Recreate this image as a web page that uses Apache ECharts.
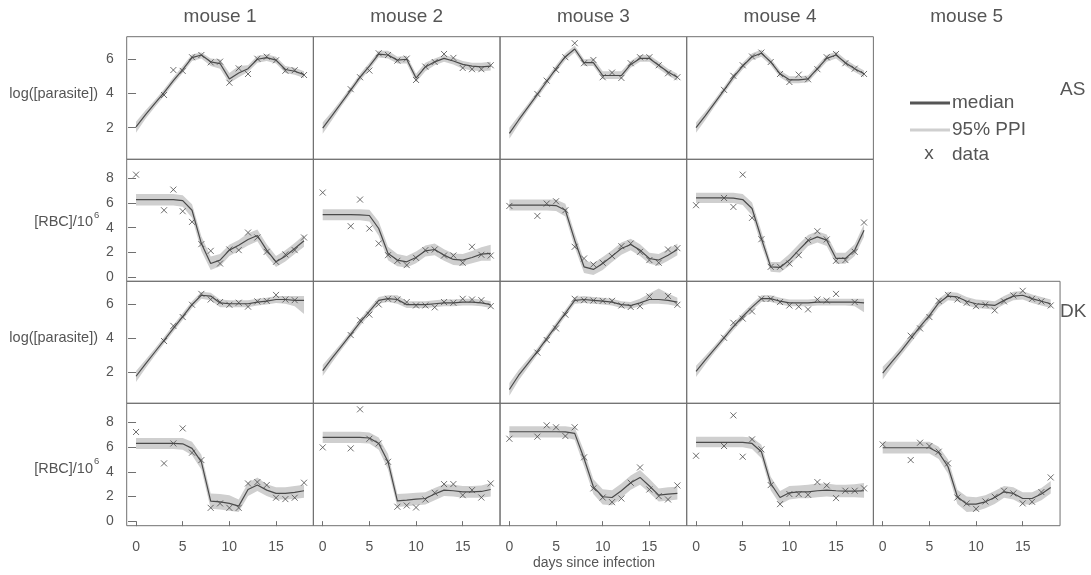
<!DOCTYPE html>
<html><head><meta charset="utf-8">
<script src="https://cdn.jsdelivr.net/npm/echarts@6/dist/echarts.min.js"></script>
<style>html,body{margin:0;padding:0;background:#fff}#c{width:1091px;height:575px}</style>
</head><body><div id="c"></div><script>
const days = [0,1,2,3,4,5,6,7,8,9,10,11,12,13,14,15,16,17,18];
const mouseLabels = ['mouse 1','mouse 2','mouse 3','mouse 4','mouse 5'];
const groupLabels = ['AS','DK'];
const xTicks = [0,5,10,15];
const parTicks = [2,4,6];
const rbcTicks = [0,2,4,6,8];
const xLabel = 'days since infection';

// ---- AS, log([parasite]) ----
const asParMed1 = [2.05,2.75,3.4,4.05,4.75,5.4,6.1,6.25,5.85,5.75,4.85,5.2,5.45,6.0,6.1,5.95,5.4,5.3,5.1];
const asParLo1  = [1.7,2.5,3.2,3.85,4.55,5.2,5.9,6.05,5.6,5.45,4.6,4.95,5.25,5.8,5.9,5.75,5.2,5.1,4.9];
const asParHi1  = [2.35,3.0,3.6,4.25,4.95,5.6,6.3,6.4,6.05,6.0,5.2,5.6,5.65,6.2,6.3,6.15,5.6,5.5,5.3];
const asParObs1 = [null,null,null,3.91,5.37,5.32,6.12,6.25,5.82,5.86,4.63,5.47,5.14,6.03,6.15,5.94,5.33,5.36,5.08];

const asParMed2 = [1.97,2.7,3.45,4.2,4.95,5.6,6.3,6.25,5.95,6.0,4.9,5.55,5.85,6.05,5.9,5.7,5.6,5.55,5.6];
const asParLo2  = [1.65,2.45,3.25,4.0,4.75,5.4,6.1,6.05,5.75,5.75,4.65,5.3,5.65,5.85,5.7,5.45,5.35,5.3,5.35];
const asParHi2  = [2.3,2.95,3.65,4.4,5.15,5.8,6.5,6.5,6.15,6.2,5.15,5.8,6.05,6.25,6.1,5.9,5.8,5.8,5.85];
const asParObs2 = [null,null,null,4.25,4.95,5.34,6.35,6.25,5.92,6.04,4.79,5.57,5.84,6.31,6.08,5.49,5.42,5.42,5.65];

const asParMed3 = [1.67,2.45,3.2,3.95,4.7,5.45,6.15,6.6,5.8,5.8,5.05,5.05,5.05,5.7,6.05,6.05,5.65,5.25,4.95];
const asParLo3  = [1.35,2.2,3.0,3.75,4.5,5.25,5.95,6.4,5.6,5.6,4.85,4.85,4.85,5.5,5.85,5.85,5.45,5.05,4.75];
const asParHi3  = [2.0,2.7,3.4,4.15,4.9,5.65,6.35,6.8,6.0,6.05,5.3,5.3,5.3,5.9,6.25,6.25,5.85,5.45,5.15];
const asParObs3 = [null,null,null,3.97,4.75,5.38,6.12,6.94,5.77,5.96,4.95,5.22,4.91,5.77,6.12,6.12,5.65,5.18,4.95];

const asParMed4 = [2.0,2.7,3.45,4.2,4.95,5.6,6.15,6.35,5.85,5.15,4.8,4.8,4.85,5.45,6.05,6.25,5.8,5.45,5.15];
const asParLo4  = [1.7,2.45,3.25,4.0,4.75,5.4,5.95,6.15,5.65,4.95,4.6,4.6,4.65,5.25,5.85,6.05,5.6,5.25,4.95];
const asParHi4  = [2.3,2.95,3.65,4.4,5.15,5.8,6.35,6.55,6.05,5.35,5.0,5.0,5.05,5.65,6.25,6.45,6.0,5.65,5.35];
const asParObs4 = [null,null,null,4.21,5.03,5.65,6.16,6.39,5.84,5.14,4.67,5.10,4.83,5.42,6.12,6.31,5.77,5.45,5.14];

// ---- AS, [RBC]/10^6 ----
const asRbcMed1 = [6.29,6.29,6.29,6.29,6.28,6.2,5.42,2.7,1.08,1.35,2.17,2.57,3.04,3.36,2.17,1.22,1.68,2.3,2.93];
const asRbcLo1  = [5.8,5.8,5.8,5.8,5.8,5.7,4.8,2.1,0.55,0.85,1.7,2.1,2.55,2.9,1.7,0.8,1.25,1.85,2.45];
const asRbcHi1  = [6.75,6.75,6.75,6.75,6.75,6.65,5.9,3.3,1.65,1.85,2.6,3.0,3.55,3.85,2.65,1.7,2.15,2.75,3.4];
const asRbcObs1 = [8.32,null,null,5.42,7.10,5.34,4.47,2.66,2.11,1.08,2.22,2.17,3.60,3.20,2.03,1.22,1.82,2.17,3.20];

const asRbcMed2 = [5.07,5.07,5.07,5.07,5.05,4.99,3.93,1.9,1.36,1.22,1.57,2.11,2.22,1.76,1.41,1.36,1.57,1.84,1.9];
const asRbcLo2  = [4.6,4.6,4.6,4.6,4.6,4.5,3.35,1.35,0.85,0.75,1.1,1.65,1.75,1.3,0.95,0.9,1.1,1.3,1.3];
const asRbcHi2  = [5.5,5.5,5.5,5.5,5.5,5.45,4.5,2.45,1.85,1.7,2.05,2.55,2.7,2.25,1.9,1.85,2.1,2.4,2.6];
const asRbcObs2 = [6.86,null,null,4.12,6.29,3.93,2.71,1.76,1.30,0.95,1.54,2.17,2.22,1.73,1.73,1.14,2.44,1.79,1.73];

const asRbcMed3 = [5.83,5.83,5.83,5.83,5.83,5.8,5.42,2.98,0.81,0.6,1.08,1.68,2.3,2.63,2.17,1.49,1.36,1.76,2.22];
const asRbcLo3  = [5.4,5.4,5.4,5.4,5.4,5.35,4.9,2.4,0.3,0.15,0.55,1.2,1.8,2.15,1.7,1.05,0.9,1.3,1.75];
const asRbcHi3  = [6.3,6.3,6.3,6.3,6.3,6.3,5.95,3.55,1.35,1.1,1.6,2.15,2.8,3.1,2.65,1.95,1.85,2.25,2.7];
const asRbcObs3 = [5.77,null,null,4.96,5.96,6.15,5.42,2.44,1.49,1.00,1.14,1.68,2.49,2.71,2.03,1.36,1.14,2.22,2.33];

const asRbcMed4 = [6.42,6.42,6.42,6.42,6.4,6.29,5.56,3.12,0.81,0.76,1.36,2.17,2.93,3.25,2.98,1.49,1.49,2.17,3.79];
const asRbcLo4  = [6.0,6.0,6.0,6.0,6.0,5.85,5.0,2.55,0.4,0.35,0.9,1.7,2.5,2.8,2.5,1.05,1.05,1.7,3.25];
const asRbcHi4  = [6.85,6.85,6.85,6.85,6.85,6.75,6.05,3.7,1.2,1.2,1.85,2.65,3.4,3.7,3.45,1.95,1.95,2.65,4.3];
const asRbcObs4 = [5.83,null,null,6.42,5.69,8.32,4.80,3.06,0.81,0.81,1.08,1.76,2.98,3.71,3.04,1.30,1.36,2.03,4.42];

// ---- DK, log([parasite]) ----
const dkParMed1 = [1.74,2.45,3.15,3.85,4.55,5.25,5.95,6.5,6.45,6.05,6.0,6.0,6.0,6.1,6.15,6.25,6.25,6.2,6.2];
const dkParLo1  = [1.4,2.2,2.95,3.65,4.35,5.05,5.75,6.3,6.2,5.8,5.8,5.8,5.8,5.9,5.95,6.05,6.0,5.85,5.4];
const dkParHi1  = [2.05,2.7,3.35,4.05,4.75,5.45,6.15,6.7,6.65,6.25,6.2,6.2,6.2,6.3,6.35,6.45,6.45,6.45,6.45];
const dkParObs1 = [null,null,null,3.81,4.70,5.22,5.94,6.58,6.25,6.10,5.94,6.06,5.83,6.14,6.17,6.52,6.25,6.21,null];

const dkParMed2 = [2.07,2.8,3.5,4.2,4.9,5.55,6.2,6.3,6.25,5.95,5.95,5.95,6.0,6.05,6.05,6.1,6.1,6.05,5.95];
const dkParLo2  = [1.75,2.55,3.3,4.0,4.7,5.35,6.0,6.1,6.0,5.75,5.75,5.75,5.8,5.85,5.85,5.9,5.9,5.85,5.75];
const dkParHi2  = [2.4,3.05,3.7,4.4,5.1,5.75,6.4,6.5,6.5,6.15,6.15,6.15,6.2,6.25,6.25,6.3,6.3,6.25,6.15];
const dkParObs2 = [null,null,null,4.16,5.03,5.36,5.96,6.29,6.25,6.10,5.90,5.90,5.79,6.10,6.06,6.29,6.25,6.21,5.86];

const dkParMed3 = [0.96,1.8,2.5,3.2,3.95,4.7,5.45,6.2,6.25,6.2,6.15,6.1,5.95,5.9,6.05,6.25,6.25,6.2,6.1];
const dkParLo3  = [0.6,1.5,2.25,3.0,3.75,4.5,5.25,6.0,6.05,6.0,5.95,5.9,5.75,5.7,5.85,6.0,6.0,5.95,5.85];
const dkParHi3  = [1.35,2.1,2.75,3.4,4.15,4.9,5.65,6.4,6.45,6.4,6.35,6.3,6.15,6.1,6.3,6.6,6.9,6.6,6.35];
const dkParObs3 = [null,null,null,3.13,3.87,4.55,5.36,6.29,6.21,6.19,6.17,6.17,5.90,5.81,5.86,6.43,null,6.45,5.94];

const dkParMed4 = [2.03,2.7,3.35,4.0,4.65,5.25,5.8,6.3,6.3,6.15,6.05,6.05,6.05,6.1,6.1,6.1,6.1,6.1,6.05];
const dkParLo4  = [1.7,2.45,3.15,3.8,4.45,5.05,5.6,6.1,6.1,5.95,5.85,5.85,5.85,5.9,5.9,5.9,5.9,5.85,5.5];
const dkParHi4  = [2.35,2.95,3.55,4.2,4.85,5.45,6.0,6.5,6.5,6.35,6.25,6.25,6.25,6.3,6.3,6.3,6.3,6.3,6.3];
const dkParObs4 = [null,null,null,4.00,4.88,5.13,5.55,6.29,6.29,6.10,5.90,5.83,5.67,6.25,6.19,6.58,null,6.10,null];

const dkParMed5 = [1.93,2.6,3.25,3.95,4.65,5.3,6.05,6.45,6.4,6.15,6.0,5.95,5.9,6.2,6.45,6.5,6.3,6.15,6.0];
const dkParLo5  = [1.55,2.3,3.0,3.7,4.4,5.05,5.8,6.2,6.15,5.9,5.75,5.7,5.65,5.95,6.2,6.25,6.05,5.9,5.75];
const dkParHi5  = [2.3,2.85,3.5,4.2,4.9,5.55,6.3,6.7,6.65,6.4,6.25,6.2,6.15,6.45,6.7,6.75,6.55,6.4,6.25];
const dkParObs5 = [null,null,null,4.12,4.55,5.22,6.17,6.52,6.25,6.06,5.86,5.94,5.61,6.14,6.49,6.76,6.29,6.14,5.90];

// ---- DK, [RBC]/10^6 ----
const dkRbcMed1 = [6.31,6.31,6.31,6.31,6.31,6.28,5.91,4.82,1.63,1.57,1.44,1.22,2.57,2.93,2.52,2.25,2.25,2.33,2.47];
const dkRbcLo1  = [5.85,5.85,5.85,5.85,5.85,5.8,5.35,4.2,1.0,0.95,0.85,0.75,2.05,2.45,2.05,1.75,1.75,1.8,1.9];
const dkRbcHi1  = [6.75,6.75,6.75,6.75,6.75,6.75,6.45,5.4,2.25,2.2,2.1,1.75,3.1,3.55,3.0,2.75,2.75,2.85,2.95];
const dkRbcObs1 = [7.24,null,null,4.69,6.31,7.53,5.56,4.96,1.08,1.44,1.08,1.08,3.06,3.17,2.93,1.90,1.79,1.90,3.12];

const dkRbcMed2 = [6.8,6.8,6.8,6.8,6.8,6.75,6.31,4.82,1.65,1.71,1.79,1.84,2.2,2.52,2.47,2.38,2.38,2.41,2.57];
const dkRbcLo2  = [6.35,6.35,6.35,6.35,6.35,6.3,5.8,4.2,1.15,1.2,1.3,1.35,1.7,2.05,2.0,1.9,1.9,1.9,2.0];
const dkRbcHi2  = [7.25,7.25,7.25,7.25,7.25,7.2,6.8,5.45,2.2,2.25,2.3,2.35,2.7,3.0,2.95,2.85,2.85,2.9,3.1];
const dkRbcObs2 = [5.99,null,null,5.91,9.08,6.69,6.31,4.82,1.17,1.27,1.11,1.76,2.30,3.01,3.01,2.11,2.52,1.92,3.06];

const dkRbcMed3 = [7.26,7.26,7.26,7.26,7.26,7.26,7.25,7.13,5.09,2.79,1.98,1.92,2.47,3.12,3.55,2.85,2.11,2.2,2.25];
const dkRbcLo3  = [6.8,6.8,6.8,6.8,6.8,6.8,6.8,6.6,4.45,2.2,1.35,1.3,1.9,2.55,2.95,2.3,1.6,1.65,1.75];
const dkRbcHi3  = [7.7,7.7,7.7,7.7,7.7,7.7,7.7,7.6,5.7,3.4,2.6,2.5,3.05,3.7,4.15,3.45,2.65,2.75,2.8];
const dkRbcObs3 = [6.69,null,null,6.86,7.78,7.62,6.91,7.62,5.18,2.66,1.92,1.54,1.84,3.12,4.36,2.57,2.03,1.76,2.90];

const dkRbcMed4 = [6.4,6.4,6.4,6.4,6.4,6.4,6.31,5.64,3.06,1.92,2.3,2.38,2.38,2.47,2.52,2.47,2.44,2.44,2.47];
const dkRbcLo4  = [6.0,6.0,6.0,6.0,6.0,6.0,5.85,5.1,2.5,1.35,1.75,1.85,1.85,1.95,2.0,1.95,1.95,1.95,1.9];
const dkRbcHi4  = [6.85,6.85,6.85,6.85,6.85,6.85,6.8,6.2,3.6,2.45,2.85,2.9,2.95,3.05,3.05,2.95,2.95,3.0,3.1];
const dkRbcObs4 = [5.31,null,null,6.10,8.59,5.23,6.64,5.83,2.93,1.38,2.20,2.20,2.14,3.17,2.90,1.87,2.47,2.47,2.66];

const dkRbcMed5 = [5.96,5.96,5.96,5.96,5.96,5.96,5.56,4.42,1.98,1.38,1.38,1.57,1.92,2.38,2.25,1.84,1.84,2.2,2.74];
const dkRbcLo5  = [5.5,5.5,5.5,5.5,5.5,5.5,5.05,3.85,1.4,0.75,0.8,1.05,1.4,1.9,1.75,1.35,1.35,1.7,2.25];
const dkRbcHi5  = [6.45,6.45,6.45,6.45,6.45,6.45,6.05,5.0,2.55,2.0,1.95,2.1,2.45,2.85,2.75,2.35,2.35,2.7,3.25];
const dkRbcObs5 = [6.23,null,null,4.96,6.37,6.10,5.64,4.69,1.92,1.44,1.00,1.60,1.98,2.47,2.25,1.44,1.57,2.36,3.55];

// ---- panel table built from the arrays ----
const panels = [
  {row:0,col:0,kind:'par',med:asParMed1,lo:asParLo1,hi:asParHi1,obs:asParObs1},
  {row:0,col:1,kind:'par',med:asParMed2,lo:asParLo2,hi:asParHi2,obs:asParObs2},
  {row:0,col:2,kind:'par',med:asParMed3,lo:asParLo3,hi:asParHi3,obs:asParObs3},
  {row:0,col:3,kind:'par',med:asParMed4,lo:asParLo4,hi:asParHi4,obs:asParObs4},
  {row:1,col:0,kind:'rbc',med:asRbcMed1,lo:asRbcLo1,hi:asRbcHi1,obs:asRbcObs1},
  {row:1,col:1,kind:'rbc',med:asRbcMed2,lo:asRbcLo2,hi:asRbcHi2,obs:asRbcObs2},
  {row:1,col:2,kind:'rbc',med:asRbcMed3,lo:asRbcLo3,hi:asRbcHi3,obs:asRbcObs3},
  {row:1,col:3,kind:'rbc',med:asRbcMed4,lo:asRbcLo4,hi:asRbcHi4,obs:asRbcObs4},
  {row:2,col:0,kind:'par',med:dkParMed1,lo:dkParLo1,hi:dkParHi1,obs:dkParObs1},
  {row:2,col:1,kind:'par',med:dkParMed2,lo:dkParLo2,hi:dkParHi2,obs:dkParObs2},
  {row:2,col:2,kind:'par',med:dkParMed3,lo:dkParLo3,hi:dkParHi3,obs:dkParObs3},
  {row:2,col:3,kind:'par',med:dkParMed4,lo:dkParLo4,hi:dkParHi4,obs:dkParObs4},
  {row:2,col:4,kind:'par',med:dkParMed5,lo:dkParLo5,hi:dkParHi5,obs:dkParObs5},
  {row:3,col:0,kind:'rbc',med:dkRbcMed1,lo:dkRbcLo1,hi:dkRbcHi1,obs:dkRbcObs1},
  {row:3,col:1,kind:'rbc',med:dkRbcMed2,lo:dkRbcLo2,hi:dkRbcHi2,obs:dkRbcObs2},
  {row:3,col:2,kind:'rbc',med:dkRbcMed3,lo:dkRbcLo3,hi:dkRbcHi3,obs:dkRbcObs3},
  {row:3,col:3,kind:'rbc',med:dkRbcMed4,lo:dkRbcLo4,hi:dkRbcHi4,obs:dkRbcObs4},
  {row:3,col:4,kind:'rbc',med:dkRbcMed5,lo:dkRbcLo5,hi:dkRbcHi5,obs:dkRbcObs5}
];

const FONT = '"Liberation Sans", Arial, Helvetica, sans-serif';
const TXT = '#555555';
const BORDER = '#707070';
const colX0 = 126.7, colW = 186.67;
const rowY = [36.7, 159.3, 281.3, 403.3, 525.7];
const yRange = {par:[0.15, 7.32], rbc:[-0.37, 9.57]};
const yTicks = {par: parTicks, rbc: rbcTicks};

const grids = [], xAxes = [], yAxes = [], series = [];
panels.forEach((p, i) => {
  const left = colX0 + p.col * colW;
  const top = rowY[p.row];
  grids.push({left: left, top: top, width: colW, height: rowY[p.row+1] - top,
    show: true, borderColor: BORDER, borderWidth: 1, backgroundColor: 'transparent'});
  const bottom = p.row === 3;
  xAxes.push({type: 'value', gridIndex: i, min: -1, max: 19,
    axisLine: {show: false}, splitLine: {show: false},
    axisTick: {show: bottom, customValues: xTicks, length: 5, lineStyle: {color: BORDER}},
    axisLabel: {show: bottom, customValues: xTicks, fontSize: 14, color: TXT, margin: 14, fontFamily: FONT}});
  const first = p.col === 0;
  yAxes.push({type: 'value', gridIndex: i, min: yRange[p.kind][0], max: yRange[p.kind][1],
    axisLine: {show: false}, splitLine: {show: false},
    axisTick: {show: first, customValues: yTicks[p.kind], length: 8, lineStyle: {color: BORDER}},
    axisLabel: {show: first, customValues: yTicks[p.kind], fontSize: 14, color: TXT, margin: 13, fontFamily: FONT}});
  series.push({
    type: 'custom', xAxisIndex: i, yAxisIndex: i, silent: true, z: 1,
    data: [[days[0], p.lo[0]]],
    renderItem: (params, api) => {
      const pts = [];
      for (let k = 0; k < days.length; k++) pts.push(api.coord([days[k], p.hi[k]]));
      for (let k = days.length - 1; k >= 0; k--) pts.push(api.coord([days[k], p.lo[k]]));
      return {type: 'polygon', shape: {points: pts}, style: {fill: '#cfcfcf', stroke: null}};
    }
  });
  series.push({
    type: 'line', xAxisIndex: i, yAxisIndex: i, silent: true, z: 2,
    data: days.map((d, k) => [d, p.med[k]]),
    symbol: 'none', showSymbol: false,
    lineStyle: {color: '#4a4a4a', width: 1.2}
  });
  series.push({
    type: 'scatter', xAxisIndex: i, yAxisIndex: i, silent: true, z: 3,
    data: days.map((d, k) => p.obs[k] == null ? null : [d, p.obs[k]]).filter(v => v),
    symbol: 'path://M0,0L10,10M10,0L0,10', symbolSize: 6,
    itemStyle: {color: 'none', borderColor: '#4a4a4a', borderWidth: 1}
  });
});

const graphics = [];
mouseLabels.forEach((m, c) => {
  graphics.push({type: 'text', x: colX0 + c * colW + colW / 2, y: 17,
    style: {text: m, fontSize: 19, fill: TXT, fontFamily: FONT, align: 'center', verticalAlign: 'middle'}});
});
graphics.push({type: 'text', x: 1060, y: 90, style: {text: groupLabels[0], fontSize: 19, fill: TXT, fontFamily: FONT, align: 'left', verticalAlign: 'middle'}});
graphics.push({type: 'text', x: 1060, y: 312, style: {text: groupLabels[1], fontSize: 19, fill: TXT, fontFamily: FONT, align: 'left', verticalAlign: 'middle'}});
// y-axis titles
[[94, 'par'], [222, 'rbc'], [338, 'par'], [468.5, 'rbc']].forEach(([y, kind]) => {
  if (kind === 'par') {
    graphics.push({type: 'text', x: 98, y: y, style: {text: 'log([parasite])', fontSize: 14.5, fill: TXT, fontFamily: FONT, align: 'right', verticalAlign: 'middle'}});
  } else {
    graphics.push({type: 'text', x: 93, y: y, style: {text: '[RBC]/10', fontSize: 14.5, fill: TXT, fontFamily: FONT, align: 'right', verticalAlign: 'middle'}});
    graphics.push({type: 'text', x: 94, y: y - 7, style: {text: '6', fontSize: 9.5, fill: TXT, fontFamily: FONT, align: 'left', verticalAlign: 'middle'}});
  }
});
graphics.push({type: 'text', x: 594, y: 563, style: {text: xLabel, fontSize: 14, fill: TXT, fontFamily: FONT, align: 'center', verticalAlign: 'middle'}});
// legend
graphics.push({type: 'line', shape: {x1: 910, y1: 103, x2: 950, y2: 103}, style: {stroke: '#555555', lineWidth: 3}});
graphics.push({type: 'text', x: 952, y: 103, style: {text: 'median', fontSize: 19, fill: TXT, fontFamily: FONT, align: 'left', verticalAlign: 'middle'}});
graphics.push({type: 'line', shape: {x1: 910, y1: 130, x2: 950, y2: 130}, style: {stroke: '#cfcfcf', lineWidth: 3}});
graphics.push({type: 'text', x: 952, y: 130, style: {text: '95% PPI', fontSize: 19, fill: TXT, fontFamily: FONT, align: 'left', verticalAlign: 'middle'}});
graphics.push({type: 'text', x: 929, y: 154, style: {text: 'x', fontSize: 19, fill: TXT, fontFamily: FONT, align: 'center', verticalAlign: 'middle'}});
graphics.push({type: 'text', x: 952, y: 155, style: {text: 'data', fontSize: 19, fill: TXT, fontFamily: FONT, align: 'left', verticalAlign: 'middle'}});

const chart = echarts.init(document.getElementById('c'), null, {renderer: 'canvas'});
chart.setOption({
  animation: false,
  backgroundColor: '#ffffff',
  grid: grids, xAxis: xAxes, yAxis: yAxes, series: series,
  graphic: graphics
});
</script></body></html>
